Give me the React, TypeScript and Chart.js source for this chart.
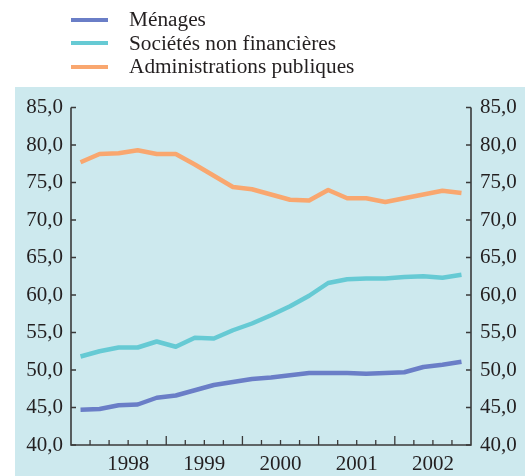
import React, { useEffect, useRef } from 'react';
import { Chart, registerables } from 'chart.js';

Chart.register(...registerables);

// ---- data ----
const quarters = [
  '1997T4',
  '1998T1', '1998T2', '1998T3', '1998T4',
  '1999T1', '1999T2', '1999T3', '1999T4',
  '2000T1', '2000T2', '2000T3', '2000T4',
  '2001T1', '2001T2', '2001T3', '2001T4',
  '2002T1', '2002T2', '2002T3', '2002T4',
];
const years = ['1998', '1999', '2000', '2001', '2002'];

const menages = [44.7, 44.8, 45.3, 45.4, 46.3, 46.6, 47.3, 48.0, 48.4, 48.8, 49.0, 49.3, 49.6, 49.6, 49.6, 49.5, 49.6, 49.7, 50.4, 50.7, 51.1];
const societes = [51.8, 52.5, 53.0, 53.0, 53.8, 53.1, 54.3, 54.2, 55.3, 56.2, 57.3, 58.5, 59.9, 61.6, 62.1, 62.2, 62.2, 62.4, 62.5, 62.3, 62.7];
const administrations = [77.7, 78.8, 78.9, 79.3, 78.8, 78.8, 77.4, 75.9, 74.4, 74.1, 73.4, 72.7, 72.6, 74.0, 72.9, 72.9, 72.4, 72.9, 73.4, 73.9, 73.6];

const seriesNames = ['Ménages', 'Sociétés non financières', 'Administrations publiques'];
const seriesColors = ['#6a7ec7', '#66cad4', '#f9a76f'];

const yMin = 40;
const yMax = 85;
const yStep = 5;

const PANEL = '#cde9ee';
const AXIS = '#3a3a3a';
const TEXT = '#231f20';
const FONT = "'Liberation Serif', 'Times New Roman', serif";

const fmt = (v: number) => Number(v).toFixed(1).replace('.', ',');

const framePlugin = {
  id: 'frame',
  beforeDraw(chart: any) {
    const { ctx } = chart;
    ctx.save();
    ctx.fillStyle = PANEL;
    ctx.fillRect(15, 87, chart.width - 15, chart.height - 87);
    ctx.restore();
  },
  afterDatasetsDraw(chart: any) {
    const { ctx, chartArea, scales } = chart;
    const { left, right, top, bottom } = chartArea;
    const x = scales.x;
    const y = scales.y;
    ctx.save();
    ctx.strokeStyle = AXIS;
    ctx.lineWidth = 1.6;
    ctx.beginPath();
    ctx.moveTo(left, top);
    ctx.lineTo(left, bottom);
    ctx.lineTo(right, bottom);
    ctx.lineTo(right, top);
    ctx.stroke();

    ctx.lineWidth = 1.3;
    ctx.beginPath();
    y.ticks.forEach((t: any) => {
      const py = y.getPixelForValue(t.value);
      ctx.moveTo(left, py);
      ctx.lineTo(left + 5, py);
      ctx.moveTo(right, py);
      ctx.lineTo(right - 5, py);
    });
    for (let k = 1; k < quarters.length; k++) {
      const px = x.getPixelForValue(k - 0.5);
      const len = k > 1 && (k - 1) % 4 === 0 ? 9 : 5;
      ctx.moveTo(px, bottom);
      ctx.lineTo(px, bottom - len);
    }
    ctx.stroke();
    ctx.restore();
  },
};

export default function App() {
  const ref = useRef<HTMLCanvasElement | null>(null);

  useEffect(() => {
    if (!ref.current) return;
    const tickFont = { family: FONT, size: 21 };
    const chart = new Chart(ref.current, {
      type: 'line',
      data: {
        labels: quarters,
        datasets: [menages, societes, administrations].map((d, i) => ({
          label: seriesNames[i],
          data: d,
          borderColor: seriesColors[i],
          backgroundColor: seriesColors[i],
          borderWidth: 4.5,
          pointRadius: 0,
          tension: 0,
          fill: false,
          borderJoinStyle: 'round' as const,
          yAxisID: 'y',
        })),
      },
      options: {
        responsive: false,
        animation: false,
        devicePixelRatio: 1,
        layout: { padding: { top: 107.5, left: 0, right: 0, bottom: 0 } },
        plugins: { legend: { display: false }, tooltip: { enabled: false } },
        scales: {
          x: {
            type: 'category',
            offset: true,
            grid: { display: false, drawTicks: false },
            border: { display: false },
            afterBuildTicks: (s: any) => {
              s.ticks = years.map((_, j) => ({ value: 2.5 + 4 * j }));
            },
            afterFit: (s: any) => {
              s.height = 31;
            },
            ticks: {
              autoSkip: false,
              maxRotation: 0,
              padding: 7,
              color: TEXT,
              font: tickFont,
              callback: (v: any) => years[Math.round((Number(v) - 2.5) / 4)],
            },
          },
          y: {
            position: 'left',
            min: yMin,
            max: yMax,
            grid: { display: false, drawTicks: false },
            border: { display: false },
            afterFit: (s: any) => {
              s.width = 71;
            },
            ticks: { stepSize: yStep, padding: 8, color: TEXT, font: tickFont, callback: (v: any) => fmt(v) },
          },
          y2: {
            position: 'right',
            min: yMin,
            max: yMax,
            grid: { display: false, drawTicks: false },
            border: { display: false },
            afterFit: (s: any) => {
              s.width = 54;
            },
            ticks: { stepSize: yStep, padding: 9, color: TEXT, font: tickFont, callback: (v: any) => fmt(v) },
          },
        },
      },
      plugins: [framePlugin],
    } as any);
    return () => chart.destroy();
  }, []);

  return (
    <div style={{ position: 'fixed', left: 0, top: 0, width: 525, height: 476, background: '#fff', overflow: 'hidden' }}>
      <canvas ref={ref} width={525} height={476} style={{ position: 'absolute', left: 0, top: 0, width: 525, height: 476 }} />
      {seriesNames.map((name, i) => (
        <React.Fragment key={name}>
          <div
            style={{
              position: 'absolute',
              left: 71,
              top: 17.5 + 23.5 * i,
              width: 37,
              height: 4,
              background: seriesColors[i],
            }}
          />
          <div
            style={{
              position: 'absolute',
              left: 129,
              top: 8 + 23.5 * i,
              fontFamily: FONT,
              fontSize: 21.3,
              lineHeight: '23px',
              color: TEXT,
              whiteSpace: 'nowrap',
            }}
          >
            {name}
          </div>
        </React.Fragment>
      ))}
    </div>
  );
}
